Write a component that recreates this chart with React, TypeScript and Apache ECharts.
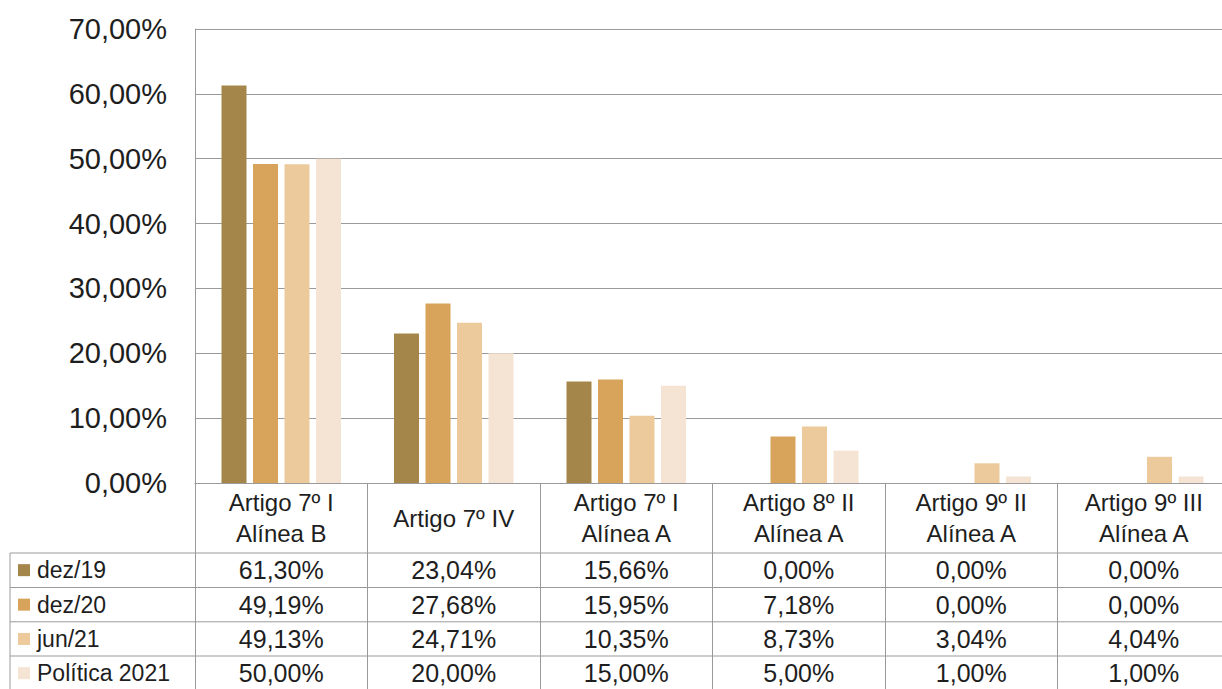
import React, { useEffect, useRef } from "react";
import * as echarts from "echarts";

const categories = [
  "Artigo 7º I\nAlínea B",
  "Artigo 7º IV",
  "Artigo 7º I\nAlínea A",
  "Artigo 8º II\nAlínea A",
  "Artigo 9º II\nAlínea A",
  "Artigo 9º III\nAlínea A",
];
const seriesNames = ["dez/19", "dez/20", "jun/21", "Política 2021"];
const dez19 = [61.3, 23.04, 15.66, 0.0, 0.0, 0.0];
const dez20 = [49.19, 27.68, 15.95, 7.18, 0.0, 0.0];
const jun21 = [49.13, 24.71, 10.35, 8.73, 3.04, 4.04];
const politica2021 = [50.0, 20.0, 15.0, 5.0, 1.0, 1.0];
const seriesData = [dez19, dez20, jun21, politica2021];
const colors = ["#A5864A", "#D8A35A", "#EDCA9C", "#F5E4D3"];
const yMin = 0;
const yMax = 70;
const yInterval = 10;

const FONT = "'Liberation Sans', Arial, sans-serif";
const fmt = (v: number) => v.toFixed(2).replace(".", ",") + "%";

export default function App() {
  const ref = useRef<HTMLDivElement>(null);
  useEffect(() => {
    if (!ref.current) return;
    const chart = echarts.init(ref.current, null, { renderer: "svg" });
    const gridLeft = 195;
    const gridTop = 29;
    const gridBottom = 206;
    const lineColor = "#9a9a9a";
    chart.setOption({
      animation: false,
      backgroundColor: "#ffffff",
      grid: { left: gridLeft, top: gridTop, bottom: gridBottom, right: 0, containLabel: false },
      xAxis: {
        type: "category",
        data: categories,
        axisLine: { show: true, lineStyle: { color: lineColor, width: 1 } },
        axisTick: { show: true, length: 210, lineStyle: { color: lineColor, width: 1 } },
        axisLabel: {
          interval: 0,
          margin: 35,
          verticalAlign: "middle",
          fontFamily: FONT,
          fontSize: 24,
          lineHeight: 31,
          color: "#1e1e1e",
        },
      },
      yAxis: {
        type: "value",
        min: yMin,
        max: yMax,
        interval: yInterval,
        axisLine: { show: true, lineStyle: { color: lineColor, width: 1 } },
        axisTick: { show: false },
        splitLine: { show: true, lineStyle: { color: lineColor, width: 1 } },
        axisLabel: {
          margin: 28,
          fontFamily: FONT,
          fontSize: 29,
          color: "#1e1e1e",
          formatter: (v: number) => fmt(v),
        },
      },
      series: seriesNames.map((name, i) => ({
        name,
        type: "bar",
        data: seriesData[i],
        barWidth: 25,
        barGap: "26%",
        itemStyle: { color: colors[i] },
      })),
    });

    const centers = categories.map((_, i) => chart.convertToPixel({ xAxisIndex: 0 }, i) as number);
    const rowTops = [553, 587.5, 621.8, 656];
    const rowH = 34.3;
    const tableLeft = 10;
    const tableRight = 1240;
    const graphic: any[] = [];
    rowTops.forEach((y) => {
      graphic.push({
        type: "line",
        shape: { x1: tableLeft, y1: y, x2: tableRight, y2: y },
        style: { stroke: lineColor, lineWidth: 1 },
        silent: true,
      });
    });
    graphic.push({
      type: "line",
      shape: { x1: tableLeft, y1: rowTops[0], x2: tableLeft, y2: 700 },
      style: { stroke: lineColor, lineWidth: 1 },
      silent: true,
    });
    seriesNames.forEach((name, r) => {
      const cy = rowTops[r] + rowH / 2;
      graphic.push({
        type: "rect",
        shape: { x: 18, y: cy - 6, width: 12, height: 12 },
        style: { fill: colors[r] },
        silent: true,
      });
      graphic.push({
        type: "text",
        x: 37,
        y: cy,
        style: {
          text: name,
          fontFamily: FONT,
          fontSize: 23,
          fill: "#1e1e1e",
          align: "left",
          verticalAlign: "middle",
        },
        silent: true,
      });
      seriesData[r].forEach((v, c) => {
        graphic.push({
          type: "text",
          x: centers[c],
          y: cy,
          style: {
            text: fmt(v),
            fontFamily: FONT,
            fontSize: 25,
            fill: "#1e1e1e",
            align: "center",
            verticalAlign: "middle",
          },
          silent: true,
        });
      });
    });
    chart.setOption({ graphic });
    return () => chart.dispose();
  }, []);

  return (
    <div
      style={{
        position: "fixed",
        left: 0,
        top: 0,
        width: 1222,
        height: 689,
        overflow: "hidden",
        background: "#ffffff",
      }}
    >
      <div ref={ref} style={{ width: 1230, height: 689 }} />
    </div>
  );
}
